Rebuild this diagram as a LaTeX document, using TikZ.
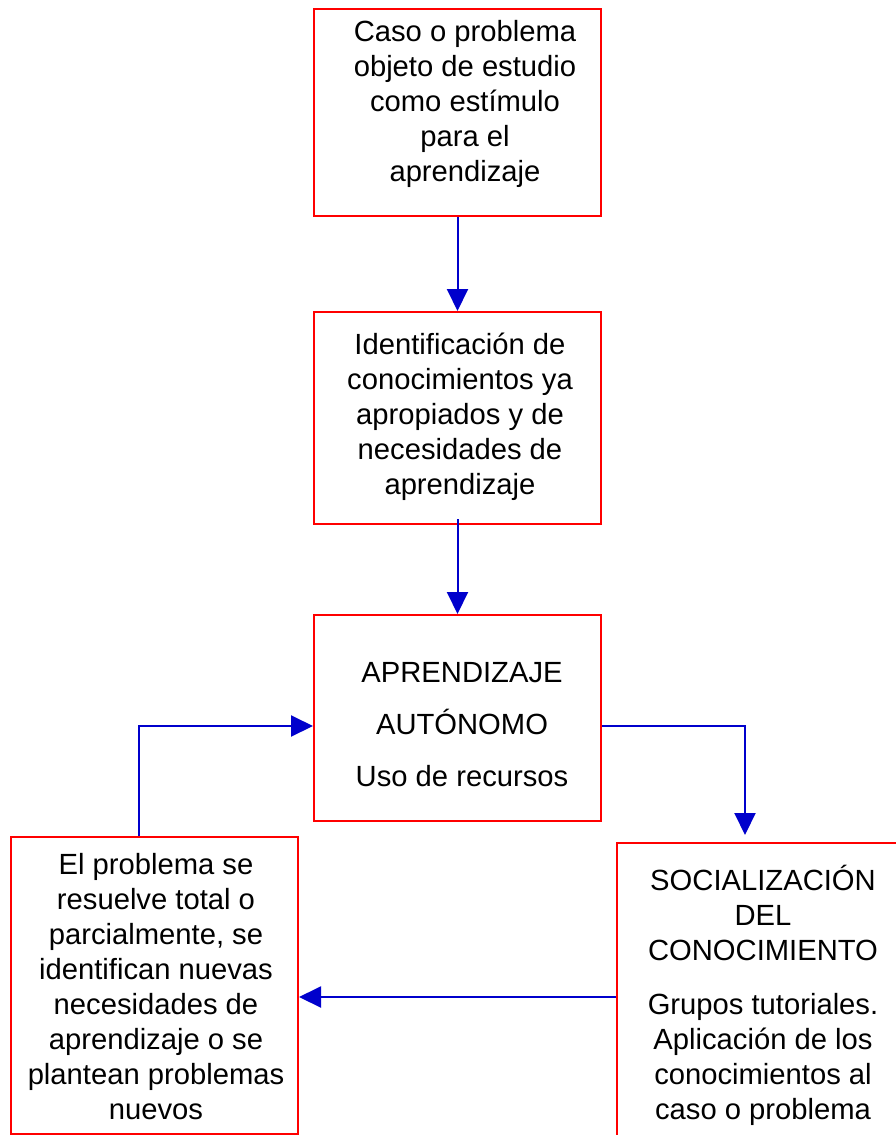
\documentclass[tikz,border=0pt]{standalone}
\usepackage{fontspec}
\setmainfont{Liberation Sans}
\usetikzlibrary{arrows.meta, calc}
\definecolor{boxred}{RGB}{255,0,0}
\definecolor{flowblue}{RGB}{0,0,204}

\begin{document}
\begin{tikzpicture}[x=1pt, y=-1pt, >={Triangle[length=22pt, width=21pt]},
    every node/.style={font=\fontsize{29.2}{35}\selectfont, align=center},
    box/.style={draw=boxred, line width=2pt, minimum width=287pt, inner sep=0pt},
    flow/.style={->, color=flowblue, line width=2pt}]

            \useasboundingbox (0,0) rectangle (896,1135);
            \clip (0,0) rectangle (896,1135);

            % Boxes (right one runs off the page)
            \node[box, minimum height=207pt] (caso) at (457.5,112.5) {};
            \node[box, minimum height=212pt] (ident) at (457.5,418) {};
            \node[box, minimum height=206pt] (auton) at (457.5,718) {};
            \node[box, minimum height=297pt] (result) at (154.5,985.5) {};
            \node[box, minimum width=292pt, minimum height=308pt] (social) at (763,997) {};

            % Texts in the boxes
            \node (casotext) at (465,104) {Caso o problema\\objeto de estudio\\como estímulo\\para el\\aprendizaje};
            \node (identtext) at (460,417) {Identificación de\\conocimientos ya\\apropiados y de\\necesidades de\\aprendizaje};
            \node (autontext) at (462,725) {APRENDIZAJE\\[17pt]AUTÓNOMO\\[17pt]Uso de recursos};
            \node (resulttext) at (156,986.5) {El problema se\\resuelve total o\\parcialmente, se\\identifican nuevas\\necesidades de\\aprendizaje o se\\plantean problemas\\nuevos};
            \node (socialtext) at (763,995) {SOCIALIZACIÓN\\DEL\\CONOCIMIENTO\\[19pt]Grupos tutoriales.\\Aplicación de los\\conocimientos al\\caso o problema};

            % Flow down the middle
            \draw[flow] (caso) -- (ident);
            \draw[flow, shorten <=-6pt] (ident) -- (auton);

            % The loop round
            \draw[flow] ([yshift=-8pt]auton.east) -| ([shift={(-18,-7)}]social.north);
            \draw[flow] (social.west) -- (social.west -| result.east);
            \draw[flow] ([xshift=-16pt]result.north) |- ([yshift=-8pt]auton.west);

\end{tikzpicture}
\end{document}
